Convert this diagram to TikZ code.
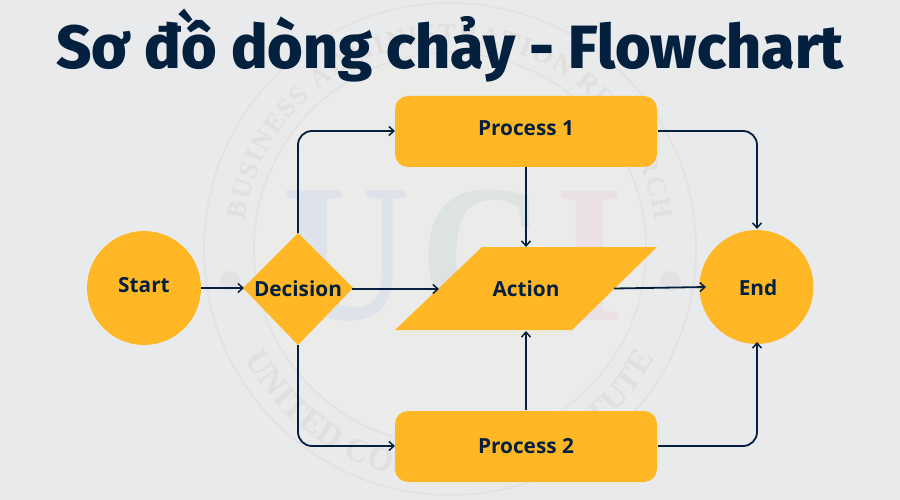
\documentclass[tikz,border=0pt]{standalone}
\usepackage{graphicx}
\usepackage{fontspec}
\setmainfont{Open Sans}
\newfontfamily\titlefont[BoldFont={Fira Sans ExtraBold}]{Fira Sans}
\newfontfamily\wmfont{Liberation Serif}
\usetikzlibrary{arrows.meta,decorations.text}
\definecolor{bgc}{HTML}{E9EAEC}
\definecolor{yel}{HTML}{FFB726}
\definecolor{navy}{HTML}{03203F}
\definecolor{wmline}{HTML}{E3E1E1}
\definecolor{wmtext}{HTML}{E2DFDF}
\definecolor{wmU}{HTML}{DEE2EA}
\definecolor{wmC}{HTML}{DCE3E1}
\definecolor{wmI}{HTML}{EBE1E4}
\definecolor{wmfill}{HTML}{EBEBEA}
\tikzset{
  x=1pt,y=-1pt,
  flowbox/.style={fill=yel,rounded corners=13pt},
  lbl/.style={text=navy,font=\fontsize{20.8}{24}\selectfont\bfseries,inner sep=0pt},
  flow/.style={draw=navy,line width=1.8pt,-{Straight Barb[length=5pt,width=9pt,line width=1.5pt]},rounded corners=14pt},
  wmletter/.style={font=\wmfont\fontsize{197}{197}\selectfont\bfseries,inner sep=0pt}
}
\begin{document}
\begin{tikzpicture}
\useasboundingbox (0,0) rectangle (900,500);
\fill[bgc] (0,0) rectangle (900,500);
% watermark
\coordinate (wmc0) at (450,249);
\fill[wmfill] (wmc0) circle[radius=196pt];
\draw[wmline,line width=1.6pt] (wmc0) circle[radius=246pt];
\draw[wmline,line width=1.4pt] (wmc0) circle[radius=196pt];
\fill[wmline] (230,281) circle[radius=10pt];
\fill[wmline] (670,281) circle[radius=10pt];
\node[wmletter,text=wmU] (wmu) at (346.5,256) {\scalebox{.9}[1]{U}};
\node[wmletter,text=wmC] (wmc) at (482.5,256) {\scalebox{.87}[1]{C}};
\node[wmletter,text=wmI] (wmi) at (590,256) {\scalebox{.9}[1]{I}};
\path[postaction={decorate,decoration={text along path,text align={fit to path},
  text={|\wmfont\fontsize{27}{27}\selectfont\bfseries\color{wmtext}|BUSINESS ADMINISTRATION RESEARCH}}}]
  ([shift={(172:207pt)}]wmc0) arc[start angle=172,end angle=8,radius=207pt];
\path[postaction={decorate,decoration={text along path,text align={fit to path},
  text={|\wmfont\fontsize{33}{33}\selectfont\bfseries\color{wmtext}|UNITED COUNTRY INSTITUTE}}}]
  ([shift={(208:232pt)}]wmc0) arc[start angle=208,end angle=332,radius=232pt];
% shapes
\fill[yel] (144,288) circle[radius=57pt];
\node[lbl] (start) at (144,285) {Start};
\fill[yel] (756.5,287) circle[radius=57pt];
\node[lbl] (endn) at (758,288) {End};
\fill[yel] (298,233) -- (353,288) -- (298,345) -- (243,288) -- cycle;
\node[lbl] (dec) at (298,289) {Decision};
\fill[flowbox] (395,96) rectangle (657,167);
\node[lbl] (p1) at (526,128) {Process 1};
\fill[flowbox] (395,411) rectangle (657,482);
\node[lbl] (p2) at (526,446) {Process 2};
\fill[yel] (482,247) -- (657,247) -- (572,330) -- (395,330) -- cycle;
\node[lbl] (act) at (526,289) {Action};
% connectors
\coordinate (sE) at (201,288);
\coordinate (dW) at (244,288);
\coordinate (dE) at (352,289);
\coordinate (aW) at (439,289);
\coordinate (dN) at (298,233);
\coordinate (dS) at (298,345);
\coordinate (p1W) at (395,131);
\coordinate (p2W) at (395,446);
\coordinate (p1E) at (658,131);
\coordinate (p2E) at (658,446);
\coordinate (p1S) at (526,167);
\coordinate (aN) at (526,247);
\coordinate (p2N) at (526,410);
\coordinate (aS) at (526,331);
\coordinate (aE) at (614,288.5);
\coordinate (eW) at (706,287);
\coordinate (eN) at (757,229);
\coordinate (eS) at (757,342);
\draw[flow] (sE) -- (dW);
\draw[flow] (dE) -- (aW);
\draw[flow] (dN) |- (p1W);
\draw[flow] (dS) |- (p2W);
\draw[flow] (p1S) -- (aN);
\draw[flow] (p2N) -- (aS);
\draw[flow] (aE) -- (eW);
\draw[flow] (p1E) -| (eN);
\draw[flow] (p2E) -| (eS);
\node[text=navy,inner sep=0pt,font=\titlefont\fontsize{61}{66}\selectfont\bfseries] (title) at (450,46) {Sơ đồ dòng chảy - Flowchart};
\end{tikzpicture}
\end{document}
